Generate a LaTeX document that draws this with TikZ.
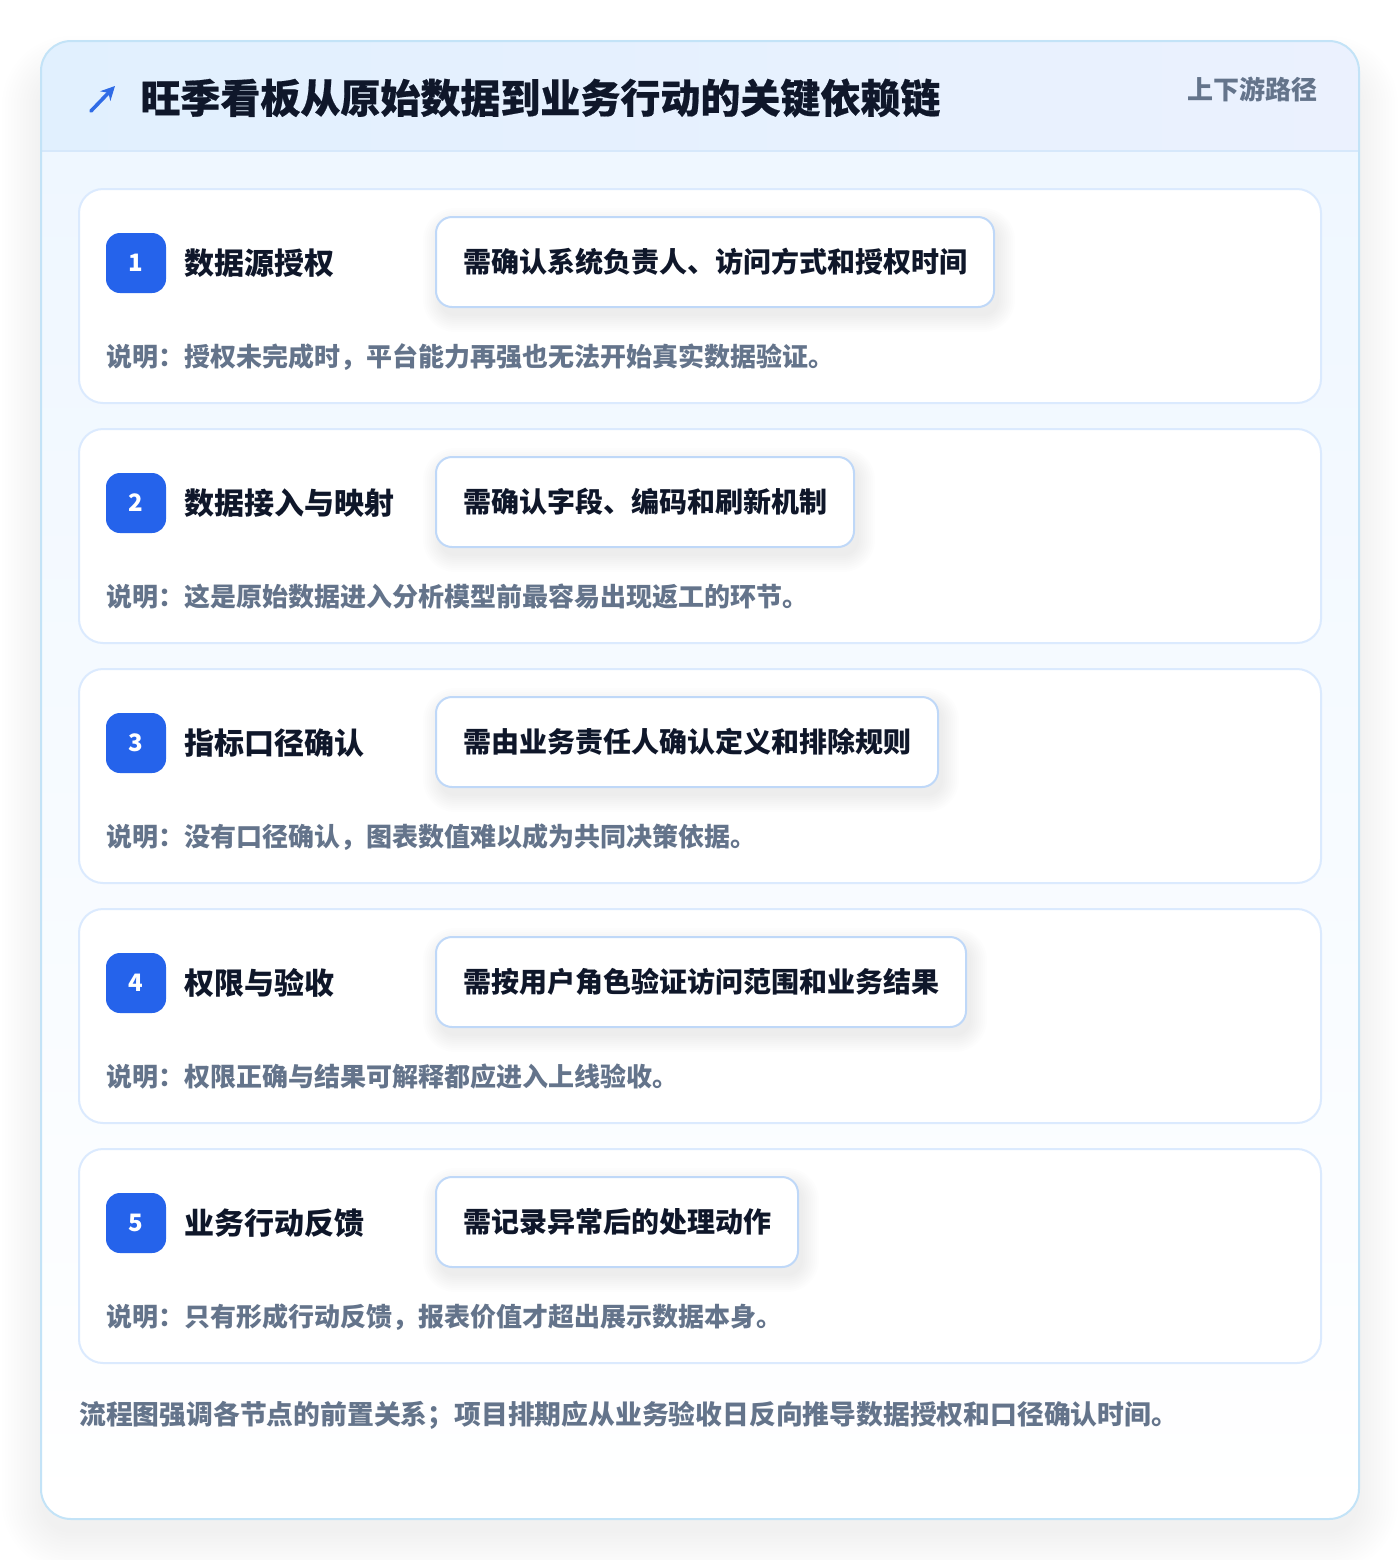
\documentclass[tikz,border=0pt]{standalone}
\usepackage{fontspec}
\setmainfont{Noto Sans CJK SC}
\newfontfamily\heavyfont{Noto Sans CJK SC}[BoldFeatures={FakeBold=0.5}]
\usetikzlibrary{arrows.meta}
\definecolor{pageBg}{HTML}{FFFFFF}
\definecolor{outerBorder}{HTML}{C3E3F7}
\definecolor{hdrL}{HTML}{E1F0FE}
\definecolor{hdrR}{HTML}{EBF1FE}
\definecolor{hdrLine}{HTML}{D6E8FB}
\definecolor{bodyTop}{HTML}{EFF7FF}
\definecolor{cardBorder}{HTML}{DBEAFE}
\definecolor{boxBorder}{HTML}{BFD8F8}
\definecolor{badgeBlue}{HTML}{2563EB}
\definecolor{arrowBlue}{HTML}{2F6BE6}
\definecolor{titleInk}{HTML}{0F172A}
\definecolor{mutedInk}{HTML}{64748B}
\definecolor{shadowInk}{HTML}{1E293B}
\tikzset{
  cardbox/.style={draw=cardBorder, line width=1pt, fill=white, rounded corners=12pt},
  badgebox/.style={fill=badgeBlue, rounded corners=7pt, minimum size=30pt, inner sep=0pt,
    text=white, font=\fontsize{12pt}{14pt}\selectfont\bfseries},
  steptitle/.style={anchor=west, inner sep=0pt, text=titleInk, font=\fontsize{15pt}{18pt}\selectfont\bfseries},
  needbox/.style={anchor=west, draw=boxBorder, line width=1pt, fill=white, rounded corners=8pt,
    minimum height=45pt, inner xsep=13.5pt, inner ysep=0pt, text=titleInk,
    font=\fontsize{14pt}{17pt}\selectfont\bfseries},
  desctext/.style={anchor=west, inner sep=0pt, text=mutedInk, font=\fontsize{13pt}{15pt}\selectfont\bfseries},
  shadowlayer/.style={fill=shadowInk, fill opacity=#1},
}
\begin{document}
\begin{tikzpicture}[x=0.5pt,y=-0.5pt]
\useasboundingbox (0,0) rectangle (1400,1560);
\fill[pageBg] (0,0) rectangle (1400,1560);
% outer card soft shadow
\foreach \k in {0,3,...,39}{
  \fill[shadowlayer=0.0055, rounded corners=15pt+0.5pt*\k]
    (41-\k,41-\k+34) rectangle (1359+\k,1519+\k+14);
}
\begin{scope}
  \clip[rounded corners=15pt] (41,41) rectangle (1359,1519);
  \fill[white] (41,41) rectangle (1359,1519);
  \shade[top color=bodyTop, bottom color=white] (41,151) rectangle (1359,1519);
  \shade[left color=hdrL, right color=hdrR] (41,41) rectangle (1359,151);
  \draw[hdrLine, line width=1pt] (41,151) -- (1359,151);
\end{scope}
\draw[outerBorder, line width=1pt, rounded corners=15pt] (41,41) rectangle (1359,1519);
% header
\coordinate (arrS) at (91,111);
\coordinate (arrE) at (115,86);
\draw[arrowBlue, line width=1.8pt, line cap=round, -{Stealth[length=7pt,width=7pt]}] (arrS) -- (arrE);
\node[anchor=west, inner sep=0pt, text=titleInk, font=\fontsize{20pt}{24pt}\selectfont\heavyfont\bfseries] (mainTitle) at (140,98) {旺季看板从原始数据到业务行动的关键依赖链};
\node[anchor=east, inner sep=0pt, text=mutedInk, font=\fontsize{13pt}{16pt}\selectfont\bfseries] (tagText) at (1318,89) {上下游路径};
% steps
\foreach \i/\ttl/\bx/\ds in {
  1/数据源授权/需确认系统负责人、访问方式和授权时间/说明：授权未完成时，平台能力再强也无法开始真实数据验证。,
  2/数据接入与映射/需确认字段、编码和刷新机制/说明：这是原始数据进入分析模型前最容易出现返工的环节。,
  3/指标口径确认/需由业务责任人确认定义和排除规则/说明：没有口径确认，图表数值难以成为共同决策依据。,
  4/权限与验收/需按用户角色验证访问范围和业务结果/说明：权限正确与结果可解释都应进入上线验收。,
  5/业务行动反馈/需记录异常后的处理动作/说明：只有形成行动反馈，报表价值才超出展示数据本身。}{
  \pgfmathsetmacro\yt{189+240*(\i-1)}
  \draw[cardbox] (79,\yt) rectangle (1321,\yt+214);
  \node[badgebox] (badge\i) at (136,\yt+74) {\i};
  \node[steptitle] (title\i) at (184,\yt+74) {\ttl};
  % measure the box first (invisible) for its shadow
  \node[needbox, draw=none, fill=none, text opacity=0] (sizer\i) at (435,\yt+73) {\bx};
  \foreach \k in {0,2,...,16}{
    \fill[shadowlayer=0.008, rounded corners=8pt+0.5pt*\k]
      ([shift={(-\k+4,-\k+8)}]sizer\i.north west) rectangle ([shift={(\k+4,\k+8)}]sizer\i.south east);
  }
  \node[needbox] (box\i) at (435,\yt+73) {\bx};
  \node[desctext] (desc\i) at (106,\yt+168) {\ds};
}
\node[anchor=west, inner sep=0pt, text=mutedInk, font=\fontsize{13.4pt}{16pt}\selectfont\bfseries] (footer) at (79,1415) {流程图强调各节点的前置关系；项目排期应从业务验收日反向推导数据授权和口径确认时间。};
\end{tikzpicture}
\end{document}
